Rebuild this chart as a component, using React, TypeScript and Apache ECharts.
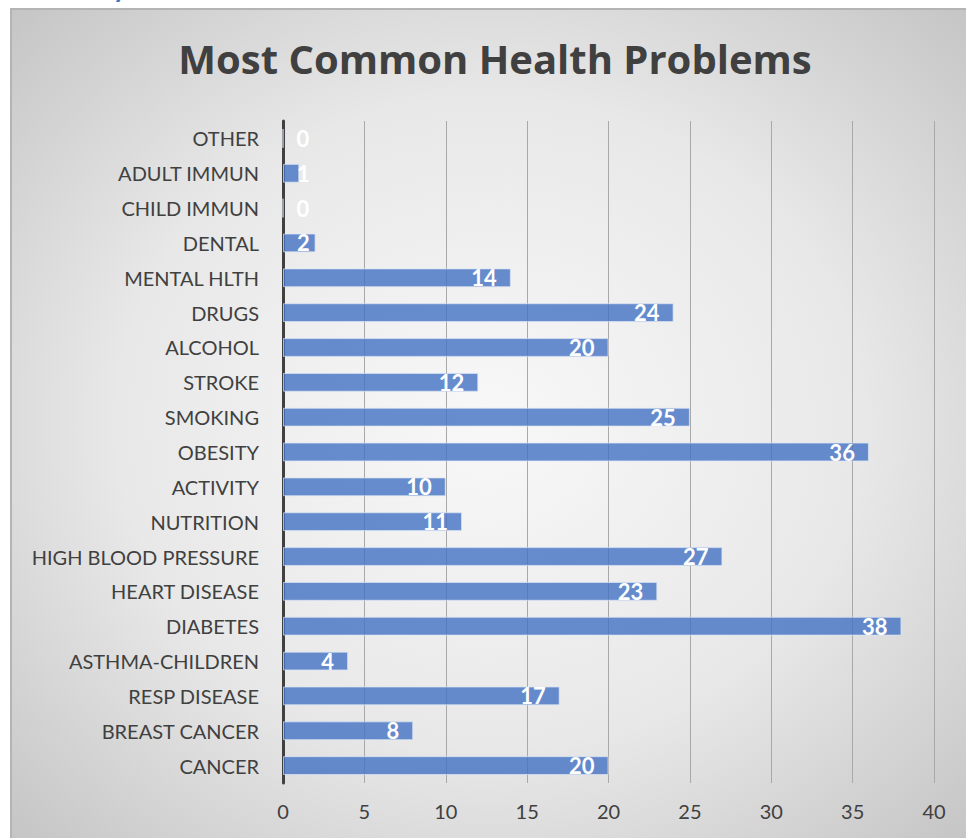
import React, { useEffect, useRef } from "react";
import * as echarts from "echarts";

const categories = [
  "CANCER",
  "BREAST CANCER",
  "RESP DISEASE",
  "ASTHMA-CHILDREN",
  "DIABETES",
  "HEART DISEASE",
  "HIGH BLOOD PRESSURE",
  "NUTRITION",
  "ACTIVITY",
  "OBESITY",
  "SMOKING",
  "STROKE",
  "ALCOHOL",
  "DRUGS",
  "MENTAL HLTH",
  "DENTAL",
  "CHILD IMMUN",
  "ADULT IMMUN",
  "OTHER",
];
const values = [20, 8, 17, 4, 38, 23, 27, 11, 10, 36, 25, 12, 20, 24, 14, 2, 0, 1, 0];
const xTicks = [0, 5, 10, 15, 20, 25, 30, 35, 40];
const titleText = "Most Common Health Problems";
const headerText = "Key Health Problems";

export default function App() {
  const ref = useRef<HTMLDivElement>(null);
  useEffect(() => {
    document.body.style.margin = "0";
    const chart = echarts.init(ref.current!, null, { renderer: "svg" });
    const font = "Lato, 'Open Sans', sans-serif";
    chart.setOption({
      animation: false,
      title: {
        text: titleText,
        left: 490,
        top: 33,
        textAlign: "center",
        textStyle: { fontFamily: "'Open Sans', Lato, sans-serif", fontWeight: "bold", fontSize: 40, color: "#404040" },
      },
      graphic: [
        {
          type: "rect",
          left: 10,
          top: 8,
          z: -10,
          silent: true,
          shape: { width: 956, height: 830 },
          style: {
            fill: {
              type: "radial",
              x: 0.5,
              y: 0.5,
              r: 0.78,
              colorStops: [
                { offset: 0, color: "#f8f8f8" },
                { offset: 0.5, color: "#e8e8e8" },
                { offset: 1, color: "#bdbdbd" },
              ],
            },
            stroke: "#b4b4b4",
            lineWidth: 2,
          },
        },
        {
          type: "text",
          left: 80,
          top: -28,
          z: -5,
          style: { text: headerText, fill: "#4472c4", font: "bold 28px " + font },
        },
      ],
      grid: { left: 283, right: 32, top: 121, bottom: 55, containLabel: false },
      xAxis: {
        type: "value",
        min: 0,
        max: 40,
        interval: 5,
        axisLine: { show: false },
        axisTick: { show: false },
        splitLine: { show: true, lineStyle: { color: "#a8a8a8", width: 1 } },
        axisLabel: {
          fontFamily: font,
          fontSize: 20,
          color: "#404040",
          margin: 18,
          formatter: (v: number) => (xTicks.includes(v) ? String(v) : ""),
        },
      },
      yAxis: {
        type: "category",
        data: categories,
        axisLine: { show: true, lineStyle: { color: "#404040", width: 3 } },
        axisTick: { show: false },
        axisLabel: { fontFamily: font, fontSize: 20, color: "#404040", margin: 24 },
      },
      series: [
        {
          type: "bar",
          data: values.map((v) => ({
            value: v,
            label:
              v < 3
                ? { position: [14, "50%"], align: "left", verticalAlign: "middle" }
                : undefined,
          })),
          barCategoryGap: "46%",
          z: 1,
          itemStyle: {
            color: "rgba(68,114,196,0.8)",
            borderColor: "rgba(220,230,245,0.7)",
            borderWidth: 1,
          },
          label: {
            show: true,
            position: "insideRight",
            distance: 14,
            color: "#ffffff",
            fontFamily: font,
            fontWeight: "bold",
            fontSize: 22,
          },
        },
      ],
    });
    return () => chart.dispose();
  }, []);
  return <div ref={ref} style={{ width: 966, height: 838 }} />;
}
